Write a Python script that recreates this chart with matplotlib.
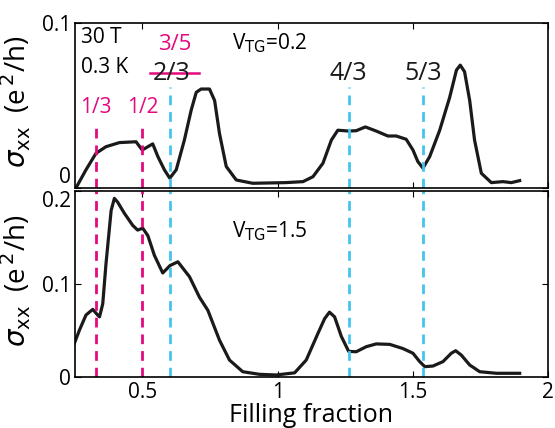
import matplotlib
matplotlib.use("Agg")
import matplotlib.pyplot as plt

plt.rcParams['font.family'] = ['Open Sans', 'DejaVu Sans']

# V_TG = 0.2 trace (top)
x_top = [0.254, 0.291, 0.328, 0.365, 0.415, 0.476, 0.499, 0.520, 0.538, 0.557, 0.581,
         0.601, 0.625, 0.655, 0.680, 0.699, 0.717, 0.748, 0.767, 0.785, 0.810, 0.847,
         0.908, 0.970, 1.030, 1.094, 1.131, 1.168, 1.199, 1.223, 1.263, 1.291, 1.325,
         1.365, 1.408, 1.439, 1.476, 1.501, 1.519, 1.538, 1.563, 1.600, 1.637, 1.662,
         1.676, 1.692, 1.711, 1.729, 1.754, 1.791, 1.834, 1.865, 1.896]
y_top = [0.000, 0.011, 0.021, 0.025, 0.0275, 0.028, 0.023, 0.025, 0.0267, 0.019, 0.011,
         0.0059, 0.011, 0.029, 0.047, 0.058, 0.060, 0.060, 0.053, 0.033, 0.013, 0.0048,
         0.0028, 0.003, 0.0032, 0.0038, 0.0068, 0.015, 0.029, 0.035, 0.0345, 0.0347, 0.037,
         0.0345, 0.0315, 0.0315, 0.0295, 0.023, 0.016, 0.012, 0.019, 0.035, 0.055, 0.0715,
         0.0745, 0.0705, 0.053, 0.029, 0.0089, 0.0032, 0.0038, 0.0032, 0.0044]

# V_TG = 1.5 trace (bottom)
x_bot = [0.248, 0.267, 0.291, 0.316, 0.334, 0.341, 0.353, 0.365, 0.384, 0.396, 0.408,
         0.433, 0.464, 0.482, 0.501, 0.520, 0.544, 0.575, 0.602, 0.631, 0.674, 0.711,
         0.742, 0.785, 0.822, 0.871, 0.933, 0.995, 1.063, 1.106, 1.149, 1.174, 1.192,
         1.211, 1.236, 1.263, 1.291, 1.328, 1.365, 1.415, 1.464, 1.501, 1.526, 1.545,
         1.575, 1.612, 1.643, 1.659, 1.680, 1.711, 1.748, 1.810, 1.896]
y_bot = [0.0366, 0.051, 0.067, 0.073, 0.067, 0.065, 0.079, 0.122, 0.179, 0.192, 0.188,
         0.176, 0.163, 0.158, 0.160, 0.152, 0.131, 0.112, 0.120, 0.124, 0.108, 0.086,
         0.072, 0.040, 0.0187, 0.0062, 0.0034, 0.0027, 0.005, 0.0187, 0.047, 0.063, 0.070,
         0.065, 0.044, 0.028, 0.0276, 0.033, 0.036, 0.0355, 0.031, 0.026, 0.017, 0.0116,
         0.0123, 0.017, 0.026, 0.0287, 0.024, 0.0134, 0.0062, 0.0045, 0.0045]

# filling-fraction markers
pink_x = [0.328, 0.500]
pink_labels = ['1/3', '1/2']
cyan_x = [0.601, 1.263, 1.540]
cyan_labels = ['4/3', '5/3']

pink = '#E5097F'
cyan = '#45C4EE'
ink = '#1a1a1a'
dash = (0, (3.5, 2.5))

fig = plt.figure(figsize=(5.55, 4.28), dpi=100)
ax1 = fig.add_axes([0.135, 0.561, 0.852, 0.385])
ax2 = fig.add_axes([0.135, 0.118, 0.852, 0.436])

for ax in (ax1, ax2):
    ax.set_xlim(0.25, 2)
    ax.set_xticks([0.5, 1, 1.5, 2])
    ax.tick_params(direction='in', top=True, right=True, labelsize=15, length=4, pad=3)
    ax.set_ylabel(r'$\sigma_{\rm xx}$  (e$^{\,2}$/h)', fontsize=20, labelpad=0)
    for s in ax.spines.values():
        s.set_linewidth(1.2)
ax1.yaxis.set_label_coords(-0.088, 0.52)
ax2.yaxis.set_label_coords(-0.088, 0.52)

# top panel
ax1.plot(x_top, y_top, color=ink, lw=2.3)
ax1.set_ylim(0, 0.1)
ax1.set_yticks([0, 0.1])
ax1.set_yticklabels(['0', '0.1'])
ax1.get_yticklabels()[0].set_verticalalignment('bottom')
ax1.tick_params(labelbottom=False)
ax1.vlines(pink_x, 0, 0.038, colors=pink, linestyles=dash, lw=2)
ax1.vlines(cyan_x, 0, 0.061, colors=cyan, linestyles=dash, lw=2)
for xv, lab in zip(pink_x, pink_labels):
    ax1.text(xv, 0.049, lab, color=pink, fontsize=15, ha='center', va='center')
for xv, lab in zip(cyan_x[1:], cyan_labels):
    ax1.text(xv, 0.0697, lab, color=ink, fontsize=18, ha='center', va='center')
ax1.text(0.607, 0.0697, '2/3', color=ink, fontsize=18, ha='center', va='center')
ax1.plot([0.526, 0.711], [0.0697, 0.0697], color=pink, lw=1.8)
ax1.text(0.619, 0.087, '3/5', color=pink, fontsize=16, ha='center', va='center')
ax1.text(0.274, 0.0915, '30 T', fontsize=15, va='center')
ax1.text(0.274, 0.073, '0.3 K', fontsize=15, va='center')
ax1.text(0.833, 0.088, r'V$_{\rm TG}$=0.2', fontsize=15, va='center')

# bottom panel
ax2.plot(x_bot, y_bot, color=ink, lw=2.3)
ax2.set_ylim(0, 0.2)
ax2.set_yticks([0, 0.1, 0.2])
ax2.set_yticklabels(['0', '0.1', '0.2'])
ax2.get_yticklabels()[2].set_verticalalignment('top')
ax2.set_xticklabels(['0.5', '1', '1.5', '2'])
ax2.vlines(pink_x, 0, 0.2, colors=pink, linestyles=dash, lw=2)
ax2.vlines(cyan_x, 0, 0.2, colors=cyan, linestyles=dash, lw=2)
ax2.text(0.833, 0.157, r'V$_{\rm TG}$=1.5', fontsize=15, va='center')
ax2.set_xlabel('Filling fraction', fontsize=18, labelpad=0)

fig.savefig('out.png', dpi=100)
